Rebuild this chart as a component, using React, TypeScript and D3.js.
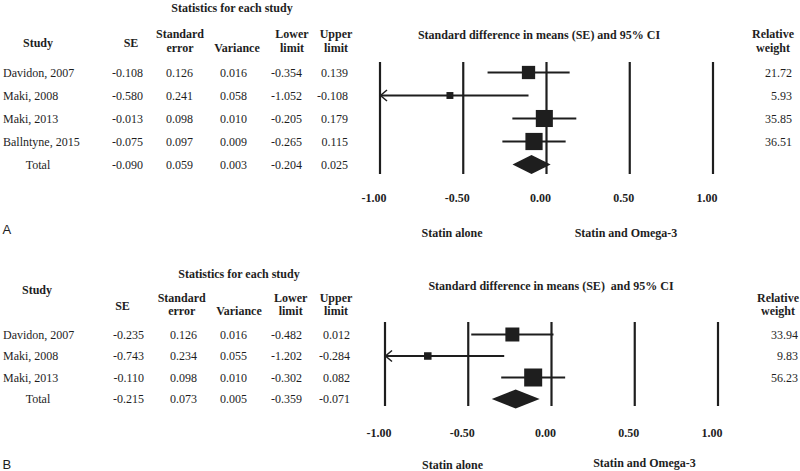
import React from "react";
import * as d3 from "d3";

// ---------- Data ----------
const studiesA = ["Davidon, 2007", "Maki, 2008", "Maki, 2013", "Ballntyne, 2015"];
const smdA = [-0.108, -0.58, -0.013, -0.075];
const stdErrA = [0.126, 0.241, 0.098, 0.097];
const varianceA = [0.016, 0.058, 0.01, 0.009];
const lowerA = [-0.354, -1.052, -0.205, -0.265];
const upperA = [0.139, -0.108, 0.179, 0.115];
const weightA = [21.72, 5.93, 35.85, 36.51];
const totalA = [-0.09, 0.059, 0.003, -0.204, 0.025];

const studiesB = ["Davidon, 2007", "Maki, 2008", "Maki, 2013"];
const smdB = [-0.235, -0.743, -0.11];
const stdErrB = [0.126, 0.234, 0.098];
const varianceB = [0.016, 0.055, 0.01];
const lowerB = [-0.482, -1.202, -0.302];
const upperB = [0.012, -0.284, 0.082];
const weightB = [33.94, 9.83, 56.23];
const totalB = [-0.215, 0.073, 0.005, -0.359, -0.071];

const tickValues = [-1, -0.5, 0, 0.5, 1];
const leftLabel = "Statin alone";
const rightLabel = "Statin and Omega-3";

// ---------- Layouts ----------
type Layout = {
  letter: string;
  letterY: number;
  titleX: number;
  titleY: number;
  studyHdr: [number, number];
  seHdr: [number, number];
  twoLineY: [number, number];
  varY: number;
  hdrX: number[];
  colRight: number[];
  rowY0: number;
  rowStep: number;
  plotTitle: string;
  plotTitleX: number;
  plotTitleY: number;
  rwX: number;
  rwY: [number, number];
  rwRight: number;
  xRange: [number, number];
  lineTop: number;
  lineBottom: number;
  tickY: number;
  leftLab: [number, number];
  rightLab: [number, number];
  maxBox: number;
};

const layoutA: Layout = {
  letter: "A",
  letterY: 229.5,
  titleX: 232,
  titleY: 8,
  studyHdr: [38, 43],
  seHdr: [131, 43],
  twoLineY: [34, 48],
  varY: 48,
  hdrX: [131, 180, 237, 292, 336],
  colRight: [143, 193, 247, 302, 348],
  rowY0: 72.5,
  rowStep: 23,
  plotTitle: "Standard difference in means (SE) and 95% CI",
  plotTitleX: 539,
  plotTitleY: 35,
  rwX: 773,
  rwY: [34, 48],
  rwRight: 792,
  xRange: [380, 713],
  lineTop: 62,
  lineBottom: 174,
  tickY: 198,
  leftLab: [452, 233],
  rightLab: [626, 233],
  maxBox: 17.2,
};

const layoutB: Layout = {
  letter: "B",
  letterY: 464.5,
  titleX: 239,
  titleY: 274,
  studyHdr: [37, 290],
  seHdr: [122.5, 306],
  twoLineY: [298, 311],
  varY: 311,
  hdrX: [122.5, 181.7, 239, 290.7, 336],
  colRight: [144, 197, 247, 302, 350],
  rowY0: 334.5,
  rowStep: 21.5,
  plotTitle: "Standard difference in means (SE)  and 95% CI",
  plotTitleX: 551,
  plotTitleY: 286,
  rwX: 778,
  rwY: [298, 311],
  rwRight: 798,
  xRange: [385, 718],
  lineTop: 322,
  lineBottom: 406,
  tickY: 433,
  leftLab: [452.5, 464.5],
  rightLab: [644.5, 462.5],
  maxBox: 18,
};

const SERIF = "'Liberation Serif', 'Times New Roman', serif";
const SANS = "'Liberation Sans', Arial, sans-serif";
const INK = "#1e1e1e";

type PanelProps = {
  L: Layout;
  studies: string[];
  smd: number[];
  se: number[];
  variance: number[];
  lower: number[];
  upper: number[];
  weight: number[];
  total: number[];
};

function Panel({ L, studies, smd, se, variance, lower, upper, weight, total }: PanelProps) {
  const x = d3.scaleLinear().domain([-1, 1]).range(L.xRange);
  const rowY = (i: number) => L.rowY0 + i * L.rowStep;
  const maxW = d3.max(weight) as number;
  const boxSize = d3.scaleSqrt().domain([0, maxW]).range([0, L.maxBox]);
  const f3 = (v: number) => v.toFixed(3);
  const f2 = (v: number) => v.toFixed(2);
  const n = studies.length;
  const tx = { fontFamily: SERIF, fontSize: 12, fill: INK };
  const bold = { ...tx, fontWeight: 700 as const };

  const rows = studies.map((s, i) => [smd[i], se[i], variance[i], lower[i], upper[i]]);
  const diamondPath = () => {
    const y = rowY(n);
    const h = 9.5;
    const p = d3.path();
    p.moveTo(x(total[3]), y);
    p.lineTo(x(total[0]), y - h);
    p.lineTo(x(total[4]), y);
    p.lineTo(x(total[0]), y + h);
    p.closePath();
    return p.toString();
  };

  return (
    <g>
      <text {...bold} x={L.titleX} y={L.titleY} dy="0.35em" textAnchor="middle">
        Statistics for each study
      </text>
      <text {...bold} x={L.studyHdr[0]} y={L.studyHdr[1]} dy="0.35em" textAnchor="middle">
        Study
      </text>
      <text {...bold} x={L.seHdr[0]} y={L.seHdr[1]} dy="0.35em" textAnchor="middle">
        SE
      </text>
      <text {...bold} x={L.hdrX[1]} y={L.twoLineY[0]} dy="0.35em" textAnchor="middle">
        Standard
      </text>
      <text {...bold} x={L.hdrX[1]} y={L.twoLineY[1]} dy="0.35em" textAnchor="middle">
        error
      </text>
      <text {...bold} x={L.hdrX[2]} y={L.varY} dy="0.35em" textAnchor="middle">
        Variance
      </text>
      <text {...bold} x={L.hdrX[3]} y={L.twoLineY[0]} dy="0.35em" textAnchor="middle">
        Lower
      </text>
      <text {...bold} x={L.hdrX[3]} y={L.twoLineY[1]} dy="0.35em" textAnchor="middle">
        limit
      </text>
      <text {...bold} x={L.hdrX[4]} y={L.twoLineY[0]} dy="0.35em" textAnchor="middle">
        Upper
      </text>
      <text {...bold} x={L.hdrX[4]} y={L.twoLineY[1]} dy="0.35em" textAnchor="middle">
        limit
      </text>

      {studies.map((s, i) => (
        <g key={s + i}>
          <text {...tx} x={3} y={rowY(i)} dy="0.35em">
            {s}
          </text>
          {rows[i].map((v, j) => (
            <text key={j} {...tx} x={L.colRight[j]} y={rowY(i)} dy="0.35em" textAnchor="end">
              {f3(v)}
            </text>
          ))}
          <text {...tx} x={L.rwRight} y={rowY(i)} dy="0.35em" textAnchor="end">
            {f2(weight[i])}
          </text>
        </g>
      ))}
      <text {...tx} x={38} y={rowY(n)} dy="0.35em" textAnchor="middle">
        Total
      </text>
      {total.map((v, j) => (
        <text key={"t" + j} {...tx} x={L.colRight[j]} y={rowY(n)} dy="0.35em" textAnchor="end">
          {f3(v)}
        </text>
      ))}

      <text {...bold} x={L.plotTitleX} y={L.plotTitleY} dy="0.35em" textAnchor="middle" style={{ whiteSpace: "pre" }}>
        {L.plotTitle}
      </text>
      <text {...bold} x={L.rwX} y={L.rwY[0]} dy="0.35em" textAnchor="middle">
        Relative
      </text>
      <text {...bold} x={L.rwX} y={L.rwY[1]} dy="0.35em" textAnchor="middle">
        weight
      </text>

      {tickValues.map((t) => (
        <line key={"v" + t} x1={x(t)} x2={x(t)} y1={L.lineTop} y2={L.lineBottom} stroke={INK} strokeWidth={2.2} />
      ))}
      {tickValues.map((t) => (
        <text key={"tl" + t} {...bold} x={x(t) - 6} y={L.tickY} dy="0.35em" textAnchor="middle">
          {f2(t)}
        </text>
      ))}

      {studies.map((s, i) => {
        const y = rowY(i);
        const clipped = lower[i] < -1;
        const lo = x(Math.max(lower[i], -1));
        const hi = x(Math.min(upper[i], 1));
        const b = boxSize(weight[i]);
        return (
          <g key={"f" + i}>
            <line x1={lo} x2={hi} y1={y} y2={y} stroke={INK} strokeWidth={clipped ? 1.8 : 2.2} />
            {clipped && (
              <path
                d={`M${lo + 7},${y - 5.5}L${lo + 0.5},${y}L${lo + 7},${y + 5.5}`}
                fill="none"
                stroke={INK}
                strokeWidth={1.5}
              />
            )}
            <rect x={x(smd[i]) - b / 2} y={y - b / 2} width={b} height={b} fill={INK} />
          </g>
        );
      })}
      <path d={diamondPath()} fill={INK} />

      <text {...bold} x={L.leftLab[0]} y={L.leftLab[1]} dy="0.35em" textAnchor="middle">
        {leftLabel}
      </text>
      <text {...bold} x={L.rightLab[0]} y={L.rightLab[1]} dy="0.35em" textAnchor="middle">
        {rightLabel}
      </text>

      <text x={2.5} y={L.letterY} dy="0.35em" fontFamily={SANS} fontSize={13} fill={INK}>
        {L.letter}
      </text>
    </g>
  );
}

export default function App() {
  return (
    <svg
      width={800}
      height={471}
      viewBox="0 0 800 471"
      style={{ position: "absolute", left: 0, top: 0, background: "#fff" }}
    >
      <rect width={800} height={471} fill="#fff" />
      <Panel
        L={layoutA}
        studies={studiesA}
        smd={smdA}
        se={stdErrA}
        variance={varianceA}
        lower={lowerA}
        upper={upperA}
        weight={weightA}
        total={totalA}
      />
      <Panel
        L={layoutB}
        studies={studiesB}
        smd={smdB}
        se={stdErrB}
        variance={varianceB}
        lower={lowerB}
        upper={upperB}
        weight={weightB}
        total={totalB}
      />
    </svg>
  );
}
